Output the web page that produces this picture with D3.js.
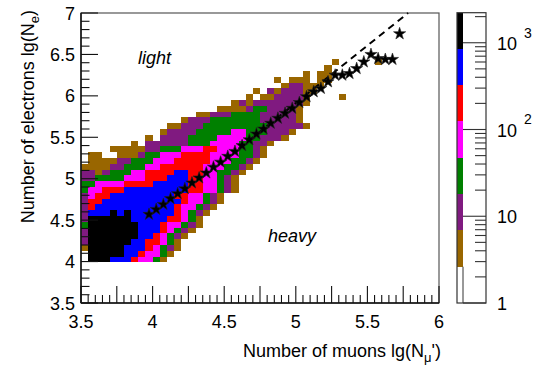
<!DOCTYPE html>
<html><head><meta charset="utf-8">
<script src="https://cdn.jsdelivr.net/npm/d3@7"></script>
<style>
body{margin:0;background:#fff}
svg{display:block}
text{font-family:"Liberation Sans",Arial,Helvetica,sans-serif;fill:#000}
</style>
</head><body>
<svg id="chart" width="540" height="369"></svg>
<script>
// ---- histogram binning: lg(N_mu') x lg(N_e)
const xBinStart = 3.5, xBinWidth = 0.05;
const yBinStart = 3.5, yBinWidth = 0.07;
const firstRow = 7;
// colour level of each filled cell: one entry per lg(Ne) bin (from firstRow up),
// "startColumn:levels", one level digit per lg(Nmu) bin, 0 = empty
const cellLevels = [
  "0:188877765542",
  "0:1888887765542",
  "0:28888877765432",
  "0:38888887766542",
  "0:388888887765432",
  "0:3888888877765432",
  "0:48888888777655432",
  "0:38888887777766542",
  "0:377787877777765432",
  "0:3677777777777655432",
  "0:36677777777777655432",
  "0:35667777777776655432",
  "0:4556667777777776655432",
  "0:4455556666777776655432",
  "0:3344445556667776655432",
  "0:33234445566667766554432",
  "0:222233444556666665554432",
  "0:0222233444555666665554432",
  "0:02200222344555666655554432",
  "0:00002222233444555665554432",
  "7:20333333444555544332",
  "9:20333344445555443332",
  "11:2333344444554443332",
  "12:22333444444444333332",
  "14:23334444444333332",
  "16:223334444333332",
  "19:222234433332",
  "21:23233333332",
  "23:20223333200002",
  "24:203233322",
  "28:233222",
  "27:20222022",
  "31:2022",
  "34:2",
  "35:2000002"
];
// representative bin content for each colour level
const levelCounts = [0, 1.6, 4.2, 11, 29, 76, 200, 520, 1400];
// contour edges of the colour palette (log spaced)
const zEdges = [1, 2.62, 6.87, 18.0, 47.2, 124, 324, 850, 2220];
const paletteColors = ["#ffffff", "#996600", "#801a80", "#008000", "#ff00ff", "#ff0000", "#0000ff", "#000000"];

// profile: mean lg(Ne) in each lg(Nmu) bin
const profileX = [3.975,4.025,4.075,4.125,4.175,4.225,4.275,4.325,4.375,4.425,4.475,4.525,
  4.575,4.625,4.675,4.725,4.775,4.825,4.875,4.925,4.975,5.025,5.075,5.125,5.175,5.225,
  5.275,5.325,5.375,5.425,5.475,5.525,5.575,5.625,5.675,5.725];
const profileY = [4.57,4.63,4.69,4.76,4.82,4.88,4.95,5.01,5.07,5.14,5.20,5.27,
  5.33,5.40,5.47,5.54,5.60,5.67,5.73,5.79,5.85,5.92,5.99,6.05,6.09,6.17,
  6.25,6.25,6.27,6.33,6.41,6.50,6.45,6.44,6.44,6.75];
// light / heavy separation line: lgNe = a + b * lgNmu
const sepLine = {a: -1.011, b: 1.385, from: 4.6};

const xTickLabels = ["3.5", "4", "4.5", "5", "5.5", "6"];
const yTickLabels = ["3.5", "4", "4.5", "5", "5.5", "6", "6.5", "7"];
const zDecades = [1, 10, 100, 1000];

// ---- layout
const svg = d3.select("#chart");
const x = d3.scaleLinear().domain([3.5, 6]).range([81, 439]);
const y = d3.scaleLinear().domain([3.5, 7]).range([303, 13]);
const z = d3.scaleLog().domain([1, 2220]).range([303, 12.7]);
const color = d3.scaleThreshold().domain(zEdges.slice(1, -1)).range(paletteColors);

// ---- cells
const cells = [];
cellLevels.forEach((row, i) => {
  const [start, codes] = row.split(":");
  for (let c = 0; c < codes.length; c++) {
    const lev = +codes[c];
    if (lev > 0) cells.push({xi: +start + c, yi: firstRow + i, count: levelCounts[lev]});
  }
});
const px = v => Math.round(x(v)), py = v => Math.round(y(v));
svg.append("g").selectAll("rect").data(cells).join("rect")
  .attr("x", d => px(xBinStart + d.xi * xBinWidth))
  .attr("width", d => px(xBinStart + (d.xi + 1) * xBinWidth) - px(xBinStart + d.xi * xBinWidth))
  .attr("y", d => py(yBinStart + (d.yi + 1) * yBinWidth))
  .attr("height", d => py(yBinStart + d.yi * yBinWidth) - py(yBinStart + (d.yi + 1) * yBinWidth))
  .attr("fill", d => color(d.count))
  .attr("shape-rendering", "crispEdges");

// ---- frame
svg.append("rect").attr("x", x(3.5)).attr("y", y(7)).attr("width", x(6) - x(3.5)).attr("height", y(3.5) - y(7))
  .attr("fill", "none").attr("stroke", "#555").attr("stroke-width", 1.2);

// ---- axis ticks (inside the frame)
const ax = svg.append("g").attr("stroke", "#111").attr("stroke-width", 1.1);
d3.range(0, 51).forEach(i => {
  const v = 3.5 + i * 0.05;
  const len = (i % 5 === 0) ? 17 : 8;
  ax.append("line").attr("x1", x(v)).attr("x2", x(v)).attr("y1", y(3.5)).attr("y2", y(3.5) - len);
});
d3.range(0, 36).forEach(i => {
  const v = 3.5 + i * 0.1;
  const len = (i % 5 === 0) ? 17 : 8.5;
  ax.append("line").attr("x1", x(3.5)).attr("x2", x(3.5) + len).attr("y1", y(v)).attr("y2", y(v));
});
ax.append("line").attr("x1", x(3.5)).attr("x2", x(6)).attr("y1", y(3.5)).attr("y2", y(3.5)).attr("stroke-width", 1.5);
ax.append("line").attr("x1", x(3.5)).attr("x2", x(3.5)).attr("y1", y(3.5)).attr("y2", y(7)).attr("stroke-width", 1.5);

// tick labels
svg.append("g").selectAll("text").data(xTickLabels).join("text")
  .attr("x", d => x(+d)).attr("y", 328).attr("text-anchor", "middle")
  .attr("font-size", 18).text(d => d);
svg.append("g").selectAll("text").data(yTickLabels).join("text")
  .attr("x", 75).attr("y", d => y(+d) + 6.5).attr("text-anchor", "end")
  .attr("font-size", 18).text(d => d);

// axis titles
const xt = svg.append("text").attr("x", 441).attr("y", 357).attr("text-anchor", "end").attr("font-size", 18);
xt.append("tspan").text("Number of muons lg(N");
xt.append("tspan").attr("font-size", 13).attr("dy", 5).text("\u03bc");
xt.append("tspan").attr("dy", -5).text("')");

const yt = svg.append("text").attr("transform", "translate(34,10) rotate(-90)")
  .attr("text-anchor", "end").attr("font-size", 18);
yt.append("tspan").text("Number of electrons lg(N");
yt.append("tspan").attr("font-size", 13).attr("dy", 5).text("e");
yt.append("tspan").attr("dy", -5).text(")");

// region labels
svg.append("text").attr("x", 138).attr("y", 64).attr("font-size", 18).attr("font-style", "italic").text("light");
svg.append("text").attr("x", 268).attr("y", 242).attr("font-size", 18).attr("font-style", "italic").text("heavy");

// ---- separation line
svg.append("line")
  .attr("x1", x(sepLine.from)).attr("y1", y(sepLine.a + sepLine.b * sepLine.from))
  .attr("x2", x((7 - sepLine.a) / sepLine.b)).attr("y2", y(7))
  .attr("stroke", "#000").attr("stroke-width", 2).attr("stroke-dasharray", "7,5");

// ---- profile stars
const star = d3.symbol().type(d3.symbolStar).size(46);
svg.append("g").selectAll("path").data(profileX.map((v, i) => [v, profileY[i]])).join("path")
  .attr("transform", d => `translate(${x(d[0])},${y(d[1])})`)
  .attr("d", star).attr("fill", "#000").attr("stroke", "#222").attr("stroke-width", 0.6);

// ---- colour palette axis
const cbX0 = 457, cbX1 = 486, stripW = 6;
const cb = svg.append("g");
for (let i = 0; i < paletteColors.length; i++) {
  cb.append("rect").attr("x", cbX0).attr("width", stripW)
    .attr("y", z(zEdges[i + 1])).attr("height", z(zEdges[i]) - z(zEdges[i + 1]))
    .attr("fill", paletteColors[i]).attr("shape-rendering", "crispEdges");
}
cb.append("rect").attr("x", cbX0).attr("y", z(2220)).attr("width", cbX1 - cbX0).attr("height", z(1) - z(2220))
  .attr("fill", "none").attr("stroke", "#333").attr("stroke-width", 1.2);
cb.append("line").attr("x1", cbX0 + stripW).attr("x2", cbX0 + stripW).attr("y1", z(2.62)).attr("y2", z(1))
  .attr("stroke", "#333").attr("stroke-width", 1);
const zt = cb.append("g").attr("stroke", "#333").attr("stroke-width", 1.1);
zDecades.forEach(dec => {
  zt.append("line").attr("x1", cbX0 + stripW).attr("x2", cbX1).attr("y1", z(dec)).attr("y2", z(dec));
  for (let m = 2; m <= 9; m++) {
    const v = dec * m;
    if (v > 2220) break;
    zt.append("line").attr("x1", cbX1 - 11).attr("x2", cbX1).attr("y1", z(v)).attr("y2", z(v));
  }
});
const zl = cb.append("g").attr("font-size", 18);
zl.append("text").attr("x", 497).attr("y", z(1) + 6.5).text("1");
zl.append("text").attr("x", 497).attr("y", z(10) + 6.5).text("10");
[[100, "2"], [1000, "3"]].forEach(([v, e]) => {
  zl.append("text").attr("x", 497).attr("y", z(v) + 7.5).text("10");
  zl.append("text").attr("x", 524).attr("y", z(v) - 5).attr("font-size", 14).text(e);
});
</script>
</body></html>
